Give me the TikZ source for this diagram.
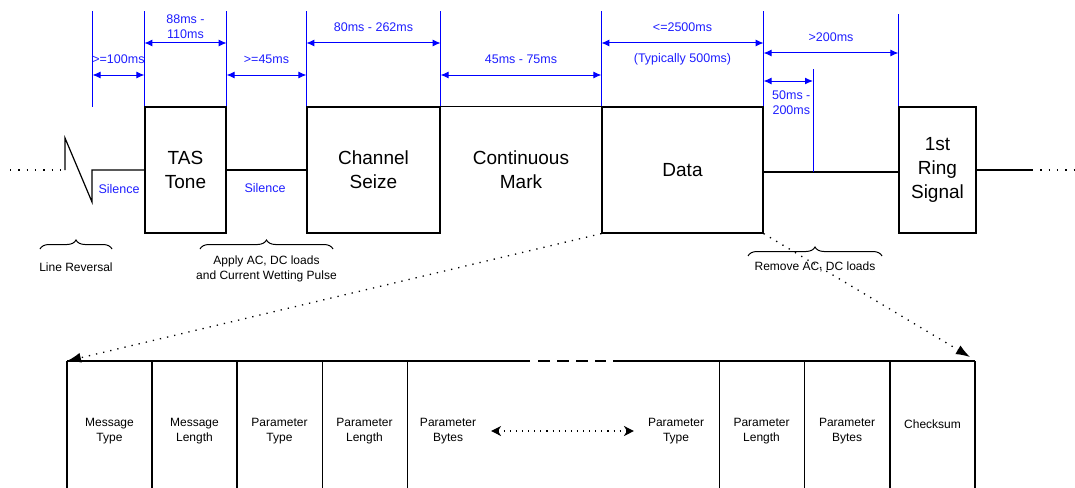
\documentclass[tikz,border=0pt]{standalone}
\usepackage{fontspec}
\setmainfont{Liberation Sans}
\usetikzlibrary{arrows.meta,decorations.pathreplacing,positioning}
\definecolor{dimblue}{RGB}{0,0,255}
\definecolor{dimtext}{RGB}{30,30,255}
\tikzset{
  sig/.style={line width=1.2pt},
  sigdots/.style={line width=1.3pt, dash pattern=on 1.3pt off 7pt},
  sigbox/.style={draw, line width=1.2pt, minimum height=126pt, inner sep=0pt,
    align=center, font=\fontsize{19}{24}\selectfont},
  dimline/.style={dimblue, line width=1pt},
  dimarrow/.style={dimline, {Latex[length=8pt,width=7pt]}-{Latex[length=8pt,width=7pt]}},
  dimlabel/.style={text=dimtext, align=center, font=\fontsize{12.5}{15}\selectfont},
  note/.style={align=center, font=\fontsize{12}{15}\selectfont},
  brace/.style={line width=1pt, decorate, decoration={brace, amplitude=9pt}},
  zoomline/.style={line width=1.3pt, dash pattern=on 1.3pt off 6pt, -{Latex[length=14pt,width=10pt]}},
  pkt/.style={line width=2pt},
  cell/.style={note},
  skip/.style={line width=1.1pt, dash pattern=on 1.1pt off 5pt,
    {Stealth[length=10pt,width=10pt,inset=3pt]}-{Stealth[length=10pt,width=10pt,inset=3pt]}}
}
\begin{document}
\begin{tikzpicture}[x=1pt,y=-1pt]
\useasboundingbox (0,0) rectangle (1075,487);
\clip (0,0) rectangle (1075,487);

% signal boxes
\node[sigbox, minimum width=81pt] (tas) at (185.5,170) {TAS\\Tone};
\node[sigbox, minimum width=133pt] (seize) at (373.5,170) {Channel\\Seize};
\node[sigbox, draw=none, minimum width=162pt] (mark) at (521,170) {Continuous\\Mark};
\node[sigbox, minimum width=161pt] (data) at (682.5,170) {Data};
\node[sigbox, minimum width=77pt] (ring) at (937.5,170) {1st\\Ring\\Signal};

% line between the boxes
\draw[sigdots] (10,170) -- (65,170);
\draw[sig] (65,170) -- (65,138) -- (92,202) -- (92,170) -- (tas.west);
\draw[sig] (tas.east) -- (seize.west);
\draw[sig] (seize.north east) -- (data.north west);
\draw[sig] ([yshift=-2pt]data.east) -- ([yshift=-2pt]ring.west);
\draw[sig] (ring.east) -- (1032,170);
\draw[sigdots] (1032,170) -- (1075,170);
\node[dimlabel] (sil1) at (119,189) {Silence};
\node[dimlabel] (sil2) at (265,188) {Silence};

% timing
\draw[dimline] (92.5,11) -- (92.5,107);
\foreach \n in {tas,seize,data} {
  \draw[dimline] (\n.north west) -- (\n.north west |- 0,11);
  \draw[dimline] (\n.north east) -- (\n.north east |- 0,11);
}
\draw[dimline] (ring.north west) -- (ring.north west |- 0,14);
\draw[dimline] (813,69) -- (813,172);
\draw[dimarrow] (92.5,75) -- (tas.north west |- 0,75)
  node[dimlabel, midway, yshift=16pt] (t100) {>=100ms};
\draw[dimarrow] (tas.north west |- 0,43) -- (tas.north east |- 0,43)
  node[dimlabel, midway, yshift=16pt] (t88) {88ms -\\110ms};
\draw[dimarrow] (tas.north east |- 0,75) -- (seize.north west |- 0,75)
  node[dimlabel, midway, yshift=16pt] (t45) {>=45ms};
\draw[dimarrow] (seize.north west |- 0,43) -- (seize.north east |- 0,43)
  node[dimlabel, midway, yshift=16pt] (t80) {80ms - 262ms};
\draw[dimarrow] (seize.north east |- 0,75) -- (data.north west |- 0,75)
  node[dimlabel, midway, yshift=16pt] (t4575) {45ms - 75ms};
\draw[dimarrow] (data.north west |- 0,43) -- (data.north east |- 0,43)
  node[dimlabel, midway, yshift=16pt] (t2500) {<=2500ms}
  node[dimlabel, midway, yshift=-16pt] (t500) {(Typically 500ms)};
\draw[dimarrow] (data.north east |- 0,53) -- (ring.north west |- 0,53)
  node[dimlabel, midway, yshift=16pt] (t200) {>200ms};
\draw[dimarrow] (data.north east |- 0,81) -- (813,81)
  node[dimlabel, midway, yshift=-21.5pt, xshift=3pt] (t50) {50ms -\\200ms};

% braces
\draw[brace] (40,249) -- (112,249) node[note, midway, yshift=-18pt] (rev) {Line Reversal};
\draw[brace] (200,249) -- (333,249)
  node[note, midway, yshift=-20pt] (apply) {Apply AC, DC loads\\and Current Wetting Pulse};
\draw[brace] (748,256) -- (882,256) node[note, midway, yshift=-11pt] (remove) {Remove AC, DC loads};

% data packet
\coordinate (pl) at (67,361);
\coordinate (pr) at (975,361);
\draw[pkt] (pl) -- (530,361);
\draw[pkt, dash pattern=on 12pt off 7pt] (538,361) -- (606,361);
\draw[pkt] (613,361) -- (pr);
\foreach \x/\w in {67/2,152/2,237/2,322/1,407/1,719/1,804/1,890/2,975/2}
  \draw[line width=\w pt] (\x,361) -- (\x,490);
\draw[zoomline] (data.south west) -- (pl);
\draw[zoomline] (data.south east) -- (970,357);

\node[cell] (msgtype) at (109.5,431) {Message\\Type};
\node[cell] (msglen) at (194.5,431) {Message\\Length};
\node[cell] (ptype) at (279.5,431) {Parameter\\Type};
\node[cell] (plen) at (364.5,431) {Parameter\\Length};
\node[cell] (pbytes) at (448,431) {Parameter\\Bytes};
\node[cell] (ptypeb) at (676,431) {Parameter\\Type};
\node[cell] (plenb) at (761.5,431) {Parameter\\Length};
\node[cell] (pbytesb) at (847,431) {Parameter\\Bytes};
\node[cell] (csum) at (932.5,424) {Checksum};
\draw[skip, shorten <=11.5pt, shorten >=10.5pt] (pbytes.east) -- (ptypeb.west);
\end{tikzpicture}
\end{document}
